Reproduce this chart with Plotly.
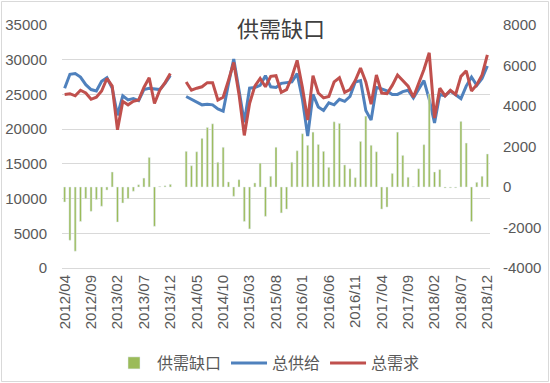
import plotly.graph_objects as go

months = [
    "2012/04", "2012/05", "2012/06", "2012/07", "2012/08", "2012/09", "2012/10", "2012/11", "2012/12",
    "2013/01", "2013/02", "2013/03", "2013/04", "2013/05", "2013/06", "2013/07", "2013/08", "2013/09",
    "2013/10", "2013/11", "2013/12",
    "2014/01", "2014/02", "2014/03", "2014/04", "2014/05", "2014/06", "2014/07", "2014/08", "2014/09",
    "2014/10", "2014/11", "2014/12",
    "2015/01", "2015/02", "2015/03", "2015/04", "2015/05", "2015/06", "2015/07", "2015/08", "2015/09",
    "2015/10", "2015/11", "2015/12",
    "2016/01", "2016/02", "2016/03", "2016/04", "2016/05", "2016/06", "2016/07", "2016/08", "2016/09",
    "2016/10", "2016/11", "2016/12",
    "2017/01", "2017/02", "2017/03", "2017/04", "2017/05", "2017/06", "2017/07", "2017/08", "2017/09",
    "2017/10", "2017/11", "2017/12",
    "2018/01", "2018/02", "2018/03", "2018/04", "2018/05", "2018/06", "2018/07", "2018/08", "2018/09",
    "2018/10", "2018/11", "2018/12",
]

tick_labels = ["2012/04", "2012/09", "2013/02", "2013/07", "2013/12", "2014/05", "2014/10",
               "2015/03", "2015/08", "2016/01", "2016/06", "2016/11", "2017/04", "2017/09",
               "2018/02", "2018/07", "2018/12"]

left_ticks = [0, 5000, 10000, 15000, 20000, 25000, 30000, 35000]
right_ticks = [-4000, -2000, 0, 2000, 4000, 6000, 8000]

# 供需缺口 (right axis)
gap = [
    -740, -2630, -3170, -1700, -580, -1200, -620, -950, -150,
    740, -1730, -790, -580, -210, 110, 440, 1460, -1940,
    30, 60, 130,
    None, None, 1760, 1050, 1740, 2400, 2940, 3120, 1220,
    1960, 250, -460,
    360, -1700, -2070, 200, 1180, -1450, 530, 1960, -1280,
    -1090, 1220, 1790,
    2630, 2060, 2710, 2100, 1760, 970, 3220, 3140, 1090,
    900, 460, 2250,
    3500, 2060, 1740, -1090, -990, 670, 2710, 1560, 480,
    20, 900, 2090,
    4600, 740, 860, -50, -40, -40, 3240, 2170, -1700,
    230, 530, 1630,
]

# 总供给 (left axis)
supply = [
    25900, 27900, 28000, 27500, 26400, 25700, 25500, 26900, 27400,
    25900, 22000, 24800, 24200, 24400, 24100, 25700, 25900, 25800,
    25700, 26600, 27700,
    None, None, 24700, 24300, 23900, 23500, 23600, 23500, 22900,
    22600, 26500, 30100,
    25600, 21000, 25900, 26000, 26300, 27700, 26100, 26000, 26600,
    26700, 26800, 28000,
    24300, 19000, 25000, 23200, 22700, 23800, 23500, 24300, 24000,
    24700, 26800, 27000,
    22700, 21300, 26000, 25800, 25500, 25000, 25000, 25400, 25600,
    24500, 25800, 27000,
    24300, 20900, 25000, 24800, 25500, 25000, 24400, 26200, 27500,
    26300, 27300, 29100,
]

# 总需求 (left axis)
demand = [
    25000, 25100, 24800, 25600, 25200, 24300, 24600, 25500, 27300,
    26200, 19900, 24000, 23500, 24000, 24200, 26000, 27400, 23700,
    25600, 26700, 28000,
    None, None, 26800, 25600, 25900, 26100, 26700, 26700, 24200,
    24600, 27000, 29600,
    25000, 19100, 23700, 26200, 27300, 26100, 27600, 27700, 25300,
    25700, 27500, 29900,
    26000, 21300, 27700, 25200, 24500, 24700, 26800, 27400, 25300,
    25700, 27000, 28800,
    26800, 23600, 27800, 25200, 25100, 26300, 27800, 27000, 26200,
    24600, 26600, 28600,
    31000, 21600, 25900, 24800, 25600, 25000, 27600, 28400, 25500,
    26400, 27800, 30700,
]

GREEN = "#9BBB59"
BLUE = "#4F81BD"
RED = "#C0504D"
FONT = "Liberation Sans, Arial, sans-serif"
CJK = "Noto Sans CJK SC, sans-serif"

fig = go.Figure()
fig.add_trace(go.Bar(x=months, y=gap, name="供需缺口", marker_color=GREEN,
                     width=0.38, yaxis="y2"))
fig.add_trace(go.Scatter(x=months, y=supply, name="总供给", mode="lines",
                         line=dict(color=BLUE, width=3), yaxis="y"))
fig.add_trace(go.Scatter(x=months, y=demand, name="总需求", mode="lines",
                         line=dict(color=RED, width=3), yaxis="y"))

L, R, T, B = 62, 60, 25, 115
W, H = 550, 383
pw, ph = W - L - R, H - T - B

fig.update_layout(
    width=W, height=H,
    margin=dict(l=L, r=R, t=T, b=B, pad=0, autoexpand=False),
    paper_bgcolor="white", plot_bgcolor="white",
    font=dict(family=FONT, size=15, color="#595959"),
    showlegend=True,
    legend=dict(orientation="h", x=(268 - L) / pw, xanchor="center",
                y=(ph - (363 - T)) / ph, yanchor="middle",
                font=dict(family=CJK, size=16, color="#595959"),
                traceorder="normal", itemwidth=36),
    xaxis=dict(type="category", categoryorder="array", categoryarray=months,
               tickmode="array", tickvals=tick_labels, ticktext=tick_labels,
               tickangle=-90, showgrid=False, showline=True, linecolor="#D9D9D9",
               ticks="", tickfont=dict(size=15, color="#595959"), automargin=False,
               range=[-0.5, len(months) - 0.5]),
    yaxis=dict(range=[0, 35000], tickmode="array", tickvals=left_ticks,
               ticktext=[str(v) for v in left_ticks], automargin=False,
               showgrid=True, gridcolor="#D9D9D9", gridwidth=1, zeroline=False,
               ticks="", ticklabelstandoff=14, tickfont=dict(size=15)),
    yaxis2=dict(range=[-4000, 8000], overlaying="y", side="right",
                tickmode="array", tickvals=right_ticks, automargin=False,
                ticktext=[str(v) for v in right_ticks],
                showgrid=False, zeroline=False, ticks="", ticklabelstandoff=12,
                tickfont=dict(size=15)),
    bargap=0.6,
)

fig.add_annotation(text="供需缺口", xref="paper", yref="paper",
                   x=(281 - L) / pw, y=(ph - (27 - T)) / ph,
                   xanchor="center", yanchor="middle", showarrow=False,
                   font=dict(family=CJK, size=22, color="#404040"),
                   bgcolor="white")

fig.add_shape(type="rect", xref="paper", yref="paper",
              x0=(1.5 - L) / pw, x1=(548.5 - L) / pw,
              y0=(ph - (381.5 - T)) / ph, y1=(ph - (1.5 - T)) / ph,
              line=dict(color="#D9D9D9", width=1), layer="below")

fig.write_html("out.html", config={"displayModeBar": False},
               post_script="document.body.style.margin='0';")
